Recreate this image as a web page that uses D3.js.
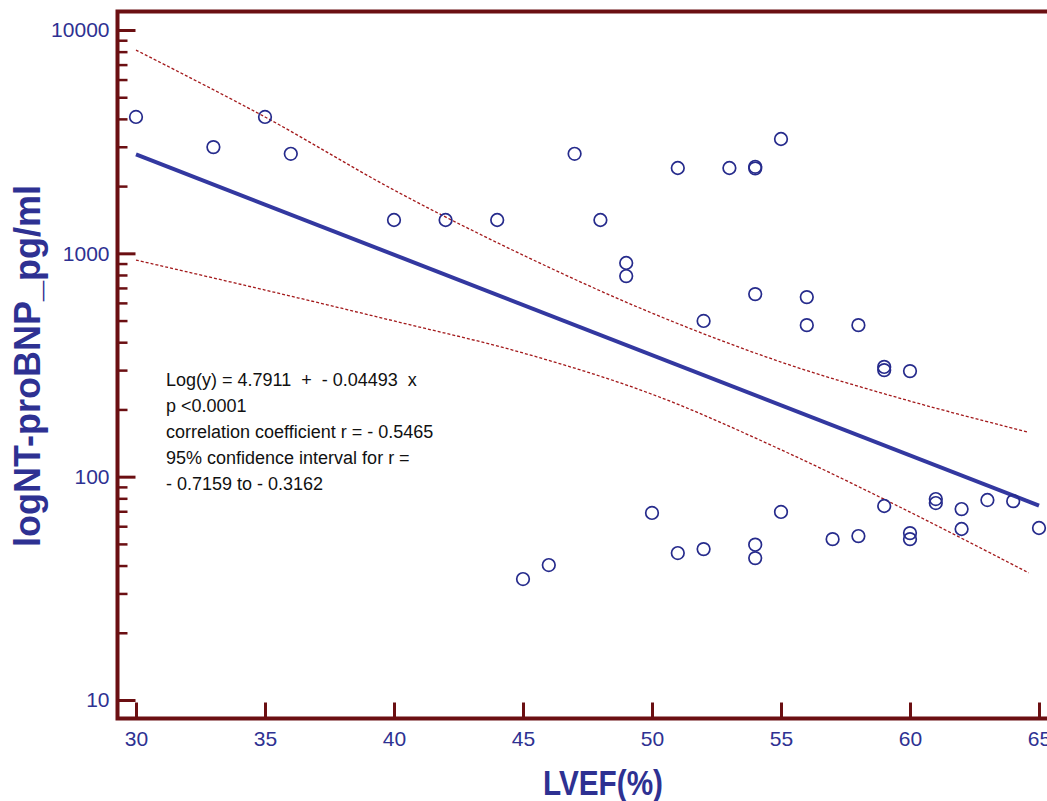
<!DOCTYPE html>
<html>
<head>
<meta charset="utf-8">
<script src="https://cdn.jsdelivr.net/npm/d3@7"></script>
<style>
  body { margin: 0; background: #fff; }
  svg { display: block; font-family: "Liberation Sans", Arial, sans-serif; }
</style>
</head>
<body>
<div class="container"></div>
<script>
// DATA
const xTicks = [30, 35, 40, 45, 50, 55, 60, 65];
const yMajor = [10, 100, 1000, 10000];
const yMinor = [20, 30, 40, 50, 60, 70, 80, 90,
                200, 300, 400, 500, 600, 700, 800, 900,
                2000, 3000, 4000, 5000, 6000, 7000, 8000, 9000];

const lvef = [30, 33, 35, 36, 40, 42, 44, 47, 48, 49, 49, 51, 53, 54, 54, 55,
              54, 52, 56, 56, 58, 59, 59, 60,
              50, 51, 52, 54, 54, 55, 45, 46, 57, 58, 59, 60, 60,
              61, 61, 62, 62, 63, 64, 65];
const ntprobnp = [4080, 2990, 4080, 2790, 1410, 1410, 1410, 2790, 1410, 905, 791, 2410, 2410, 2440, 2400, 3250,
                  657, 498, 637, 477, 477, 310, 300, 297,
                  68.8, 45.5, 47.4, 49.6, 43.2, 69.5, 34.8, 40.2, 52.5, 54.2, 73.9, 55.9, 52.5,
                  79.4, 76.2, 71.6, 58.3, 78.6, 77.7, 58.9];

// regression line Log(y) = 4.7911 - 0.04493 x, end points
const fitX = [30, 65];
const fitY = [2774, 74.2];

// 95% confidence band, estimated
const bandX = [30, 35, 40, 45, 50, 55, 60, 64.6];
const bandUpper = [8130, 4080, 1920, 982, 540, 326, 218, 158];
const bandLower = [933, 685, 498, 358, 234, 132, 69.4, 37.1];

const statsLines = [
  "Log(y) = 4.7911  +  - 0.04493  x",
  "p <0.0001",
  "correlation coefficient r = - 0.5465",
  "95% confidence interval for r =",
  "- 0.7159 to - 0.3162"
];

// SETUP
const width = 1047;
const height = 801;
const axisColor = "#6b0f12";
const inkColor = "#2e3192";

const frame = { left: 117.5, top: 11.5, bottom: 718.5 };

const xScale = d3.scaleLinear().domain([30, 65]).range([136, 1039]);
const yScale = d3.scaleLog().domain([10, 10000]).range([700, 30]);

const svg = d3.select(".container")
    .append("svg")
    .attr("width", width)
    .attr("height", height);

// confidence band (dashed)
const bandLine = (vals) => d3.line()
    .x((d, i) => xScale(bandX[i]))
    .y((d) => yScale(d))
    .curve(d3.curveCatmullRom)(vals);

[bandUpper, bandLower].forEach(vals => {
  svg.append("path")
     .attr("d", bandLine(vals))
     .attr("fill", "none")
     .attr("stroke", "#a3191b")
     .attr("stroke-width", 1.3)
     .attr("stroke-dasharray", "3,2");
});

// regression line
svg.append("path")
   .attr("d", d3.line().x((d, i) => xScale(fitX[i])).y(d => yScale(d))(fitY))
   .attr("fill", "none")
   .attr("stroke", "#3338a0")
   .attr("stroke-width", 4);

// points
svg.selectAll("circle.pt")
   .data(lvef)
   .enter()
   .append("circle")
   .attr("class", "pt")
   .attr("cx", d => xScale(d))
   .attr("cy", (d, i) => yScale(ntprobnp[i]))
   .attr("r", 6.3)
   .attr("fill", "none")
   .attr("stroke", "#262b8c")
   .attr("stroke-width", 1.7);

// y axis, ticks pointing inwards
const yAxisMajor = svg.append("g")
    .attr("transform", `translate(${frame.left},0)`)
    .call(d3.axisLeft(yScale).tickValues(yMajor).tickFormat(d3.format("d"))
          .tickSize(-18).tickPadding(8));
const yAxisMinor = svg.append("g")
    .attr("transform", `translate(${frame.left},0)`)
    .call(d3.axisLeft(yScale).tickValues(yMinor).tickFormat("").tickSize(-10));

// x axis
const xAxis = svg.append("g")
    .attr("transform", `translate(0,${frame.bottom})`)
    .call(d3.axisBottom(xScale).tickValues(xTicks).tickSize(-16).tickPadding(13));

[yAxisMajor, yAxisMinor, xAxis].forEach(g => {
  g.select(".domain").remove();
  g.selectAll(".tick line").attr("stroke", axisColor).attr("stroke-width", 3);
  g.selectAll(".tick text")
   .attr("fill", inkColor)
   .style("font-size", "21px")
   .style("font-family", "'Liberation Sans', Arial, sans-serif");
});
yAxisMinor.selectAll(".tick line").attr("stroke-width", 2.5);

// frame lines (left, bottom, top)
svg.append("path")
   .attr("d", `M${width + 5},${frame.top}H${frame.left}V${frame.bottom}H${width + 5}`)
   .attr("fill", "none")
   .attr("stroke", axisColor)
   .attr("stroke-width", 4);

// axis titles
svg.append("text")
   .attr("x", 603)
   .attr("y", 795)
   .attr("text-anchor", "middle")
   .attr("textLength", 120)
   .attr("lengthAdjust", "spacingAndGlyphs")
   .attr("fill", inkColor)
   .style("font-size", "35px")
   .style("font-weight", "bold")
   .text("LVEF(%)");

svg.append("text")
   .attr("transform", "translate(40,366) rotate(-90)")
   .attr("text-anchor", "middle")
   .attr("fill", inkColor)
   .style("font-size", "36px")
   .style("font-weight", "bold")
   .text("logNT-proBNP_pg/ml");

// regression statistics
svg.append("g")
   .selectAll("text")
   .data(statsLines)
   .enter()
   .append("text")
   .attr("x", 166)
   .attr("y", (d, i) => 386 + i * 26)
   .attr("fill", "#111")
   .style("font-size", "18px")
   .style("white-space", "pre")
   .attr("xml:space", "preserve")
   .text(d => d);
</script>
</body>
</html>
